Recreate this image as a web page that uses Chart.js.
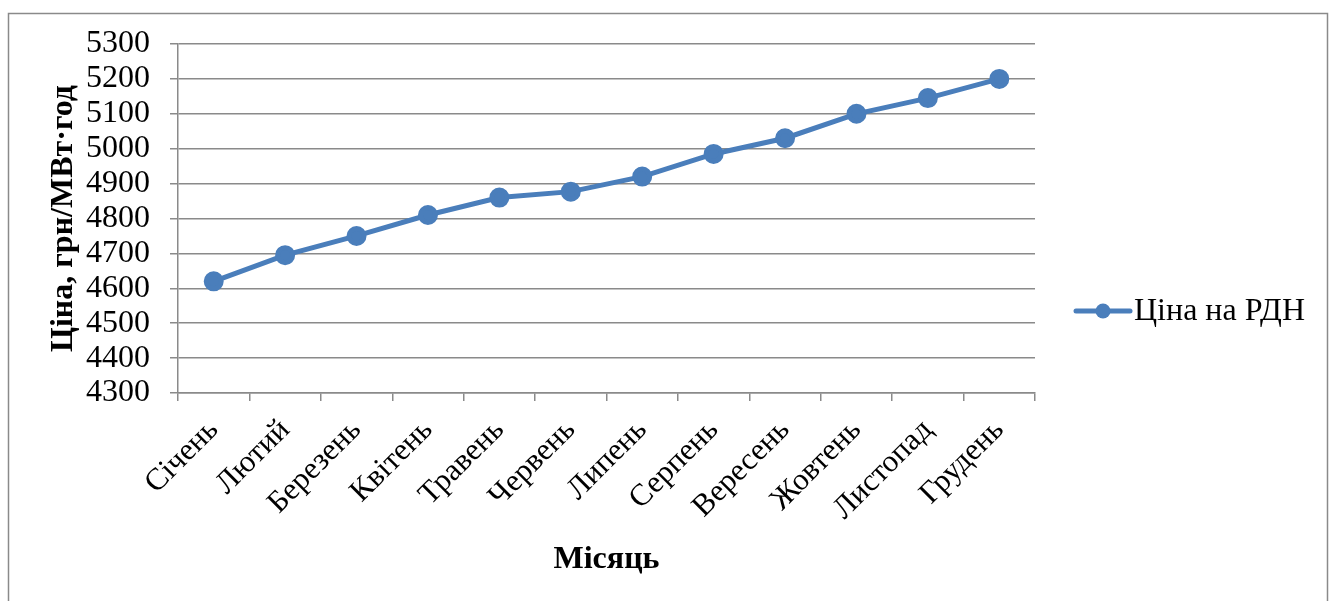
<!DOCTYPE html>
<html>
<head>
<meta charset="utf-8">
<script src="https://cdn.jsdelivr.net/npm/chart.js@4.4.1/dist/chart.umd.min.js"></script>
<style>
  html, body { margin: 0; padding: 0; background: #fff; }
  #wrap { width: 1338px; height: 601px; }
</style>
</head>
<body>
<div id="wrap"><canvas id="chart" width="1338" height="601"></canvas></div>
<script>
// Monthly day-ahead market price, UAH per MWh
const months = ['Січень', 'Лютий', 'Березень', 'Квітень', 'Травень', 'Червень',
                'Липень', 'Серпень', 'Вересень', 'Жовтень', 'Листопад', 'Грудень'];
const prices = [4620, 4695, 4750, 4810, 4860, 4877, 4920, 4985, 5030, 5100, 5145, 5200];
const seriesName = 'Ціна на РДН';
const yTitle = 'Ціна, грн/МВт·год';
const xTitle = 'Місяць';
const yMin = 4300, yMax = 5300, yStep = 100;

const FONT = "'Liberation Serif', 'Times New Roman', serif";
const BLUE = '#4a7ebb';
const GRID = '#8a8a8a';

// Outer frame around the whole chart
const framePlugin = {
  id: 'frame',
  beforeDraw(chart) {
    const ctx = chart.ctx;
    ctx.save();
    ctx.fillStyle = '#fff';
    ctx.fillRect(0, 0, chart.width, chart.height);
    ctx.strokeStyle = '#8a8a8a';
    ctx.lineWidth = 1.5;
    ctx.strokeRect(8.5, 13.5, 1319, 620);
    ctx.restore();
  }
};

// Legend entry on the right: line with a marker, then the series name
const sideLegend = {
  id: 'sideLegend',
  afterDraw(chart) {
    const ds = chart.data.datasets[0];
    const ctx = chart.ctx;
    const y = 311, x0 = 1076, x1 = 1130;
    ctx.save();
    ctx.strokeStyle = ds.borderColor;
    ctx.lineWidth = ds.borderWidth;
    ctx.lineCap = 'round';
    ctx.beginPath();
    ctx.moveTo(x0, y);
    ctx.lineTo(x1, y);
    ctx.stroke();
    ctx.fillStyle = ds.pointBackgroundColor;
    ctx.beginPath();
    ctx.arc((x0 + x1) / 2, y, ds.pointRadius, 0, Math.PI * 2);
    ctx.fill();
    ctx.fillStyle = '#000';
    ctx.font = '32px ' + FONT;
    ctx.textBaseline = 'middle';
    ctx.textAlign = 'left';
    ctx.fillText(ds.label, 1134, y + 1);
    ctx.restore();
  }
};

new Chart(document.getElementById('chart'), {
  type: 'line',
  data: {
    labels: months,
    datasets: [{
      label: seriesName,
      data: prices,
      borderColor: BLUE,
      backgroundColor: BLUE,
      pointBackgroundColor: BLUE,
      pointBorderColor: BLUE,
      borderWidth: 5,
      pointRadius: 7.5,
      pointHoverRadius: 7.5,
      tension: 0,
      fill: false
    }]
  },
  options: {
    responsive: false,
    animation: false,
    events: [],
    layout: { padding: { left: 45, right: 303, top: 44, bottom: 22 } },
    plugins: {
      legend: { display: false },
      tooltip: { enabled: false }
    },
    scales: {
      x: {
        offset: true,
        grid: {
          offset: true,
          drawOnChartArea: false,
          drawTicks: true,
          tickLength: 8,
          color: GRID,
          lineWidth: 1.5
        },
        border: { color: GRID, width: 1.5 },
        ticks: {
          color: '#000',
          font: { family: FONT, size: 31 },
          minRotation: 45,
          maxRotation: 45,
          padding: 11,
          autoSkip: false
        },
        title: {
          display: true,
          text: xTitle,
          color: '#000',
          font: { family: FONT, size: 32, weight: 'bold' },
          padding: { top: 0, bottom: 0 }
        },
        afterFit(scale) { scale.height = 186; }
      },
      y: {
        min: yMin,
        max: yMax,
        grid: {
          color: GRID,
          lineWidth: 1.5,
          tickLength: 8
        },
        border: { color: GRID, width: 1.5 },
        ticks: {
          stepSize: yStep,
          autoSkip: false,
          color: '#000',
          font: { family: FONT, size: 32 },
          padding: 20,
          callback: (v) => String(v)
        },
        title: {
          display: true,
          text: yTitle,
          color: '#000',
          font: { family: FONT, size: 32, weight: 'bold' },
          padding: { top: 0, bottom: 0 }
        },
        afterFit(scale) { scale.width = 133; }
      }
    }
  },
  plugins: [framePlugin, sideLegend]
});
</script>
</body>
</html>
